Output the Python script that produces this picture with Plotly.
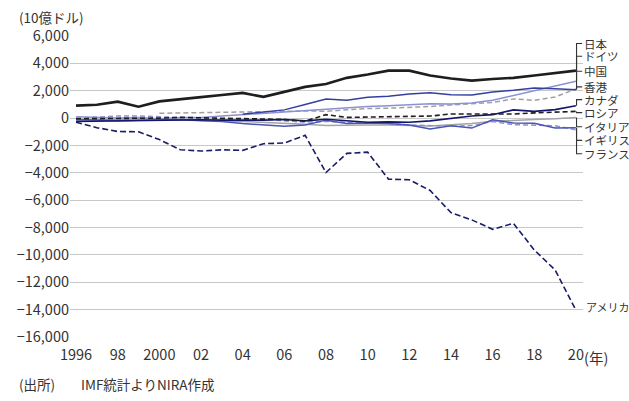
import plotly.graph_objects as go

years = list(range(1996, 2021))

japan = [910, 980, 1200, 835, 1220, 1400, 1530, 1690, 1840, 1550, 1910, 2280, 2490,
         2940, 3180, 3470, 3470, 3110, 2890, 2740, 2860, 2940, 3110, 3300, 3470]
germany = [100, 50, 0, 50, -50, 50, 50, 150, 250, 350, 450, 600, 650,
           750, 850, 900, 970, 1050, 1030, 1100, 1300, 1640, 2030, 2320, 2690]
china = [None] * 8 + [280, 420, 600, 1000, 1400, 1300, 1520, 1590, 1760, 1860, 1700,
                      1680, 1910, 2030, 2200, 2150, 2080]
hongkong = [None] * 4 + [350, 380, 400, 450, 480, 490, 500, 520, 500, 620, 700,
                         720, 760, 850, 950, 1050, 1150, 1400, 1300, 1540, 2130]
canada = [-250, -230, -200, -190, -150, -120, -120, -150, -160, -150, -100, -200, -80,
          -200, -300, -280, -300, -200, -20, 150, 250, 600, 490, 620, 900]
russia = [-50, -50, -30, -20, 0, 50, 30, 0, -20, -50, -100, -220, 250,
          50, 80, 100, 120, 150, 300, 300, 280, 300, 380, 420, 490]
italy = [-150, -150, -100, -50, -80, -100, -150, -200, -250, -300, -350, -450, -550,
         -500, -500, -500, -550, -580, -480, -400, -240, -150, -100, -50, 50]
uk = [-100, -150, -200, -150, -100, -100, -200, -250, -400, -500, -600, -500, -150,
      -400, -350, -400, -500, -800, -560, -730, -120, -360, -380, -730, -700]
france = [0, 100, 150, 150, 100, 80, 0, -100, -150, -100, -200, -300, -250,
          -300, -300, -400, -500, -550, -600, -550, -250, -480, -530, -560, -850]
usa = [-300, -700, -980, -1000, -1570, -2310, -2410, -2320, -2360, -1870, -1820, -1260, -3980,
       -2580, -2490, -4460, -4510, -5290, -6910, -7440, -8130, -7690, -9640, -11100, -14040]

names = ["日本", "ドイツ", "中国", "香港", "カナダ", "ロシア", "イタリア", "イギリス", "フランス"]
series = [japan, germany, china, hongkong, canada, russia, italy, uk, france]
label_pos = [5450, 4520, 3420, 2280, 1350, 400, -630, -1630, -2610]

ytick_vals = list(range(-16000, 6001, 2000))
xtick_vals = list(range(1996, 2021, 2))
xtick_text = ["1996", "98", "2000", "02", "04", "06", "08", "10", "12", "14", "16", "18", "20"]

styles = {
    "日本": dict(color="#1e1e1e", width=2.6, dash="solid"),
    "ドイツ": dict(color="#8c90d4", width=1.5, dash="solid"),
    "中国": dict(color="#3340a0", width=1.5, dash="solid"),
    "香港": dict(color="#a0a0a0", width=1.5, dash="5px,3px"),
    "カナダ": dict(color="#14166a", width=1.6, dash="solid"),
    "ロシア": dict(color="#1e1e1e", width=1.6, dash="5px,3px"),
    "イタリア": dict(color="#a4a4a4", width=1.5, dash="solid"),
    "イギリス": dict(color="#4a55b5", width=1.5, dash="solid"),
    "フランス": dict(color="#8c90d4", width=1.5, dash="5px,3px"),
}

FONT = "Noto Sans CJK JP, Noto Sans, sans-serif"
TXT = "#333333"

fig = go.Figure()
order = ["イタリア", "香港", "ドイツ", "フランス", "イギリス", "中国", "カナダ", "ロシア", "日本"]
for nm in order:
    vals = series[names.index(nm)]
    fig.add_trace(go.Scatter(x=years, y=vals, mode="lines", line=styles[nm],
                             showlegend=False, hoverinfo="skip", connectgaps=False))

fig.add_trace(go.Scatter(x=years, y=usa, mode="lines",
                         line=dict(color="#1a1d66", width=1.6, dash="6px,3px"),
                         showlegend=False, hoverinfo="skip"))

annotations = []
shapes = []
for nm, vals, ly in zip(names, series, label_pos):
    end = vals[-1]
    shapes.append(dict(type="path", xref="x", yref="y",
                       path=f"M 2020.03,{end} L 2020.03,{ly} L 2020.3,{ly}",
                       line=dict(color="#333333", width=1.1)))
    annotations.append(dict(x=2020.3, y=ly, xref="x", yref="y", text=nm,
                            showarrow=False, xanchor="left", yanchor="middle",
                            xshift=0, font=dict(family=FONT, size=11.5, color=TXT)))

annotations.append(dict(x=2020, y=usa[-1], xref="x", yref="y", text="アメリカ",
                        showarrow=False, xanchor="left", yanchor="middle",
                        xshift=8, yshift=3, font=dict(family=FONT, size=11, color=TXT)))
annotations.append(dict(x=2020, y=0, xref="x", yref="paper", text="(年)",
                        showarrow=False, xanchor="left", yanchor="top",
                        xshift=6, yshift=-8, font=dict(family=FONT, size=14.5, color=TXT)))
annotations.append(dict(x=0, y=1, xref="paper", yref="paper", text="(10億ドル)",
                        showarrow=False, xanchor="left", yanchor="bottom",
                        xshift=-53, yshift=7, font=dict(family=FONT, size=13.5, color=TXT)))
annotations.append(dict(x=0, y=0, xref="paper", yref="paper", text="(出所)",
                        showarrow=False, xanchor="left", yanchor="top",
                        xshift=-53, yshift=-35, font=dict(family=FONT, size=13.5, color=TXT)))
annotations.append(dict(x=0, y=0, xref="paper", yref="paper", text="IMF統計よりNIRA作成",
                        showarrow=False, xanchor="left", yanchor="top",
                        xshift=9, yshift=-35, font=dict(family=FONT, size=13.5, color=TXT)))

fig.update_layout(
    width=629, height=401,
    margin=dict(l=70, r=46, t=36, b=64, autoexpand=False),
    paper_bgcolor="white", plot_bgcolor="white",
    font=dict(family=FONT, size=14, color=TXT),
    annotations=annotations, shapes=shapes,
    xaxis=dict(range=[1995.71, 2020.34], tickvals=xtick_vals, ticktext=xtick_text,
               showgrid=False, zeroline=False, showline=False, ticks="",
               automargin=False, ticklabelstandoff=7,
               tickfont=dict(size=14.5, color=TXT), fixedrange=True),
    yaxis=dict(range=[-16000, 6000], tickvals=ytick_vals, tickformat=",",
               showgrid=True, gridcolor="#c8c8c8", gridwidth=1.3,
               zeroline=False, showline=False, ticks="", automargin=False,
               tickfont=dict(size=14.5, color=TXT), fixedrange=True),
)

fig.write_html("out.html",
               post_script="document.body.style.margin='0';document.body.style.padding='0';",
               config={"displayModeBar": False})
